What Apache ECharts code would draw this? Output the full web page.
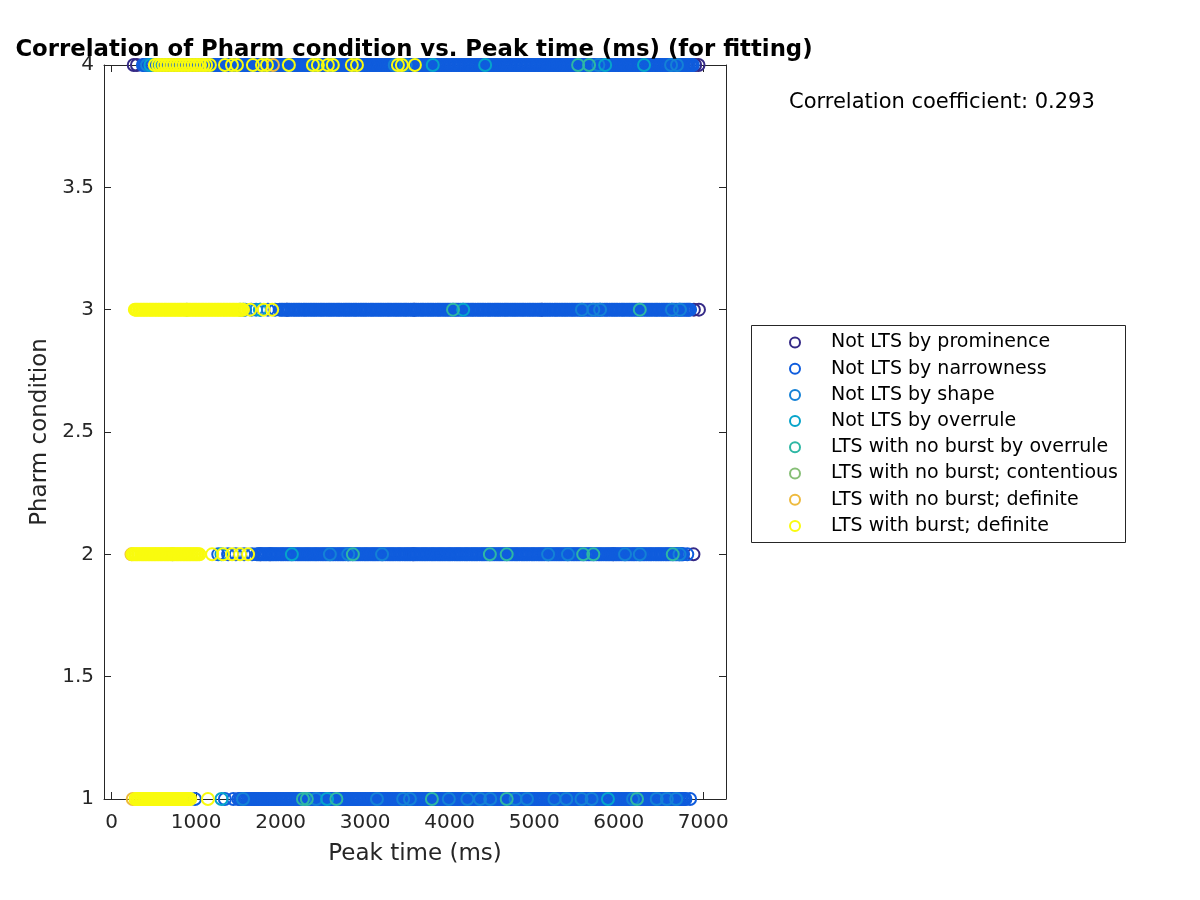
<!DOCTYPE html>
<html>
<head>
<meta charset="utf-8">
<script src="https://cdn.jsdelivr.net/npm/echarts@6/dist/echarts.min.js"></script>
<style>
html,body{margin:0;padding:0;background:#fff;}
#chart{width:1200px;height:900px;}
</style>
</head>
<body>
<div id="chart"></div>
<script>
// ---- Data ----
const seriesNames = [
  'Not LTS by prominence',
  'Not LTS by narrowness',
  'Not LTS by shape',
  'Not LTS by overrule',
  'LTS with no burst by overrule',
  'LTS with no burst; contentious',
  'LTS with no burst; definite',
  'LTS with burst; definite'
];
const seriesColors = ['#352A87','#0F5CDD','#1481D6','#06A4CA','#2EB7A4','#87BF77','#EEBA3D','#F9FB0E'];

const xTicks = [0,1000,2000,3000,4000,5000,6000,7000];
const yTicks = [1,1.5,2,2.5,3,3.5,4];
const correlationText = 'Correlation coefficient: 0.293';

// Peak times (ms) per pharm condition row, per classification
const prominence_4 = [262,300,3092,6905,6945];
const prominence_3 = [2075,3580,5090,6890,6950];
const prominence_2 = [1760,1873,3570,5935,6885];
const prominence_1 = [2760,3980,6490];

const narrowness_4 = [370,386,402,425,447,463,481,503,526,543,560,582,603,622,641,660,679,700,722,740,758,779,801,818,836,858,880,898,917,935,953,975,998,1015,1032,1054,1077,1093,1110,1131,1152,1173,1194,1212,1230,1250,1271,1292,1313,1331,1350,1371,1392,1410,1428,1449,1470,1491,1512,1530,1548,1569,1591,1609,1627,1648,1669,1688,1708,1727,1746,1767,1788,1805,1823,1845,1867,1885,1904,1923,1943,1964,1985,2003,2021,2042,2063,2082,2102,2121,2140,2161,2183,2201,2219,2240,2261,2280,2300,2319,2338,2359,2381,2399,2418,2438,2459,2478,2497,2516,2536,2557,2579,2597,2615,2636,2658,2677,2696,2715,2734,2755,2777,2795,2813,2834,2856,2874,2893,2912,2932,2953,2975,2993,3011,3032,3054,3072,3091,3110,3130,3151,3172,3191,3210,3230,3251,3270,3290,3309,3328,3349,3371,3389,3407,3428,3450,3469,3488,3507,3526,3547,3569,3587,3605,3626,3648,3667,3687,3705,3724,3745,3767,3785,3803,3824,3846,3865,3884,3903,3922,3943,3965,3983,4001,4022,4044,4063,4082,4101,4120,4141,4163,4181,4199,4220,4242,4261,4280,4299,4318,4339,4361,4379,4397,4418,4440,4459,4478,4497,4516,4537,4559,4577,4595,4616,4638,4657,4676,4695,4714,4735,4757,4775,4793,4814,4836,4855,4874,4893,4912,4933,4955,4973,4991,5012,5034,5053,5072,5091,5110,5131,5153,5171,5189,5210,5232,5251,5270,5289,5308,5329,5351,5369,5387,5408,5430,5449,5468,5487,5506,5527,5549,5567,5585,5606,5628,5647,5666,5685,5704,5725,5747,5765,5783,5804,5826,5845,5864,5883,5902,5923,5945,5963,5981,6002,6024,6043,6062,6081,6100,6121,6143,6161,6179,6200,6222,6241,6260,6279,6298,6319,6341,6359,6377,6398,6420,6439,6458,6477,6496,6517,6539,6557,6575,6596,6618,6637,6656,6675,6694,6715,6737,6755,6773,6792,6812,6831,6850,6865,6878];
const narrowness_3 = [1560,1655,1762,1850,1935,1990,2009,2028,2050,2071,2089,2107,2128,2150,2169,2188,2207,2226,2247,2269,2287,2305,2326,2348,2367,2386,2405,2424,2445,2467,2485,2503,2524,2546,2565,2584,2603,2622,2643,2665,2683,2701,2722,2744,2763,2782,2801,2820,2841,2863,2881,2899,2920,2942,2961,2980,2999,3018,3039,3061,3079,3097,3118,3140,3159,3178,3197,3216,3237,3259,3277,3295,3316,3338,3357,3376,3395,3414,3435,3457,3475,3493,3514,3536,3555,3574,3593,3612,3633,3655,3673,3691,3712,3734,3753,3772,3791,3810,3831,3853,3871,3889,3910,3932,3951,3970,3989,4008,4029,4051,4069,4087,4108,4130,4149,4168,4187,4206,4227,4249,4267,4285,4306,4328,4347,4366,4385,4404,4425,4447,4465,4483,4504,4526,4545,4564,4583,4602,4623,4645,4663,4681,4702,4724,4743,4762,4781,4800,4821,4843,4861,4879,4900,4922,4941,4960,4979,4998,5019,5041,5059,5077,5098,5120,5139,5158,5177,5196,5217,5239,5257,5275,5296,5318,5337,5356,5375,5394,5415,5437,5455,5473,5494,5516,5535,5554,5573,5592,5613,5635,5653,5671,5692,5714,5733,5752,5771,5790,5811,5833,5851,5869,5890,5912,5931,5950,5969,5988,6009,6031,6049,6067,6088,6110,6129,6148,6167,6186,6207,6229,6247,6265,6286,6308,6327,6346,6365,6384,6405,6427,6445,6463,6484,6506,6525,6544,6563,6582,6603,6625,6643,6661,6682,6704,6723,6742,6761,6780,6798,6815,6830,6845];
const narrowness_2 = [1262,1378,1470,1568,1662,1720,1738,1757,1779,1800,1818,1836,1857,1879,1898,1917,1936,1955,1976,1998,2016,2034,2055,2077,2096,2115,2134,2153,2174,2196,2214,2232,2253,2275,2294,2313,2332,2351,2372,2394,2412,2430,2451,2473,2492,2511,2530,2549,2570,2592,2610,2628,2649,2671,2690,2709,2728,2747,2768,2790,2808,2826,2847,2869,2888,2907,2926,2945,2966,2988,3006,3024,3045,3067,3086,3105,3124,3143,3164,3186,3204,3222,3243,3265,3284,3303,3322,3341,3362,3384,3402,3420,3441,3463,3482,3501,3520,3539,3560,3582,3600,3618,3639,3661,3680,3699,3718,3737,3758,3780,3798,3816,3837,3859,3878,3897,3916,3935,3956,3978,3996,4014,4035,4057,4076,4095,4114,4133,4154,4176,4194,4212,4233,4255,4274,4293,4312,4331,4352,4374,4392,4410,4431,4453,4472,4491,4510,4529,4550,4572,4590,4608,4629,4651,4670,4689,4708,4727,4748,4770,4788,4806,4827,4849,4868,4887,4906,4925,4946,4968,4986,5004,5025,5047,5066,5085,5104,5123,5144,5166,5184,5202,5223,5245,5264,5283,5302,5321,5342,5364,5382,5400,5421,5443,5462,5481,5500,5519,5540,5562,5580,5598,5619,5641,5660,5679,5698,5717,5738,5760,5778,5796,5817,5839,5858,5877,5896,5915,5936,5958,5976,5994,6015,6037,6056,6075,6094,6113,6134,6156,6174,6192,6213,6235,6254,6273,6292,6311,6332,6354,6372,6390,6411,6433,6452,6471,6490,6509,6530,6552,6570,6588,6609,6631,6650,6669,6688,6707,6722,6738,6750,6762,6812];
const narrowness_1 = [986,1340,1440,1500,1519,1538,1560,1581,1599,1617,1638,1660,1679,1698,1717,1736,1757,1779,1797,1815,1836,1858,1877,1896,1915,1934,1955,1977,1995,2013,2034,2056,2075,2094,2113,2132,2153,2175,2193,2211,2232,2254,2273,2292,2311,2330,2351,2373,2391,2409,2430,2452,2471,2490,2509,2528,2549,2571,2589,2607,2628,2650,2669,2688,2707,2726,2747,2769,2787,2805,2826,2848,2867,2886,2905,2924,2945,2967,2985,3003,3024,3046,3065,3084,3103,3122,3143,3165,3183,3201,3222,3244,3263,3282,3301,3320,3341,3363,3381,3399,3420,3442,3461,3480,3499,3518,3539,3561,3579,3597,3618,3640,3659,3678,3697,3716,3737,3759,3777,3795,3816,3838,3857,3876,3895,3914,3935,3957,3975,3993,4014,4036,4055,4074,4093,4112,4133,4155,4173,4191,4212,4234,4253,4272,4291,4310,4331,4353,4371,4389,4410,4432,4451,4470,4489,4508,4529,4551,4569,4587,4608,4630,4649,4668,4687,4706,4727,4749,4767,4785,4806,4828,4847,4866,4885,4904,4925,4947,4965,4983,5004,5026,5045,5064,5083,5102,5123,5145,5163,5181,5202,5224,5243,5262,5281,5300,5321,5343,5361,5379,5400,5422,5441,5460,5479,5498,5519,5541,5559,5577,5598,5620,5639,5658,5677,5696,5717,5739,5757,5775,5796,5818,5837,5856,5875,5894,5915,5937,5955,5973,5994,6016,6035,6054,6073,6092,6113,6135,6153,6171,6192,6214,6233,6252,6271,6290,6311,6333,6351,6369,6390,6412,6431,6450,6469,6488,6509,6531,6549,6567,6588,6610,6629,6648,6667,6686,6707,6729,6747,6765,6778,6790,6845];

const shape_4 = [420,2090,2400,2610,3350,3480,5760,6620,6690];
const shape_3 = [1580,1710,5565,5700,5780,6630,6725];
const shape_2 = [2583,2800,3200,5165,5400,6075,6250,6720];
const shape_1 = [1555,2420,3140,3450,3530,3990,4210,4360,4480,4780,4915,5240,5380,5560,5680,6170,6450,6570,6680];

const overrule_4 = [460,3800,4420,5840,6300];
const overrule_3 = [1755,4160];
const overrule_2 = [1300,2133];
const overrule_1 = [1300,2550,5873];

const ltsOverrule_4 = [5520,5650];
const ltsOverrule_3 = [1520,4040,6250];
const ltsOverrule_2 = [2855,4476,4675,5580,5700,6640];
const ltsOverrule_1 = [2264,2310,2660,3790,4675,6217];

const contentious_3 = [890];
const contentious_2 = [720];

const noBurstDef_4 = [1909];
const noBurstDef_2 = [235];
const noBurstDef_1 = [250];

const burst_4 = [512,548,581,617,652,690,722,760,795,830,866,904,937,975,1010,1046,1083,1118,1163,1341,1424,1483,1672,1779,1838,2098,2382,2441,2559,2618,2843,2903,3388,3435,3589];
const burst_3 = [275,290,305,324,342,359,376,393,410,428,447,463,480,498,516,533,551,568,585,603,622,638,655,673,691,708,726,743,760,778,797,813,830,848,866,883,901,918,935,953,972,988,1005,1023,1041,1058,1076,1093,1110,1128,1147,1163,1180,1198,1216,1233,1251,1268,1285,1303,1322,1338,1355,1373,1391,1408,1426,1443,1460,1478,1497,1513,1530,1543,1555,1640,1800,1900];
const burst_2 = [245,261,278,295,312,330,349,366,383,400,418,435,452,470,487,504,521,538,556,573,590,607,625,642,659,676,694,711,728,745,763,780,797,814,832,849,866,883,901,918,935,952,970,987,1004,1022,1040,1189,1319,1425,1520,1615];
const burst_1 = [282,299,316,333,351,368,385,402,420,437,454,471,489,506,523,540,558,575,592,609,627,644,661,678,696,713,730,747,765,782,799,816,834,851,868,885,903,916,930,1140];

// ---- Build ----
function rows(r1, r2, r3, r4) {
  const out = [];
  [[r1,1],[r2,2],[r3,3],[r4,4]].forEach(([xs,y]) => (xs||[]).forEach(x => out.push([x,y])));
  return out;
}
const seriesData = [
  rows(prominence_1, prominence_2, prominence_3, prominence_4),
  rows(narrowness_1, narrowness_2, narrowness_3, narrowness_4),
  rows(shape_1, shape_2, shape_3, shape_4),
  rows(overrule_1, overrule_2, overrule_3, overrule_4),
  rows(ltsOverrule_1, ltsOverrule_2, ltsOverrule_3, ltsOverrule_4),
  rows([], contentious_2, contentious_3, []),
  rows(noBurstDef_1, noBurstDef_2, [], noBurstDef_4),
  rows(burst_1, burst_2, burst_3, burst_4)
];

const FONT = 'DejaVu Sans';
const AX = '#262626';
const chart = echarts.init(document.getElementById('chart'), null, {renderer:'canvas'});

const series = seriesNames.map((name, i) => ({
  name: name,
  type: 'scatter',
  xAxisIndex: 0,
  yAxisIndex: 0,
  symbol: 'circle',
  symbolSize: 12,
  silent: true,
  animation: false,
  progressive: 0,
  emphasis: {disabled: true},
  itemStyle: {color: 'rgba(0,0,0,0)', borderColor: seriesColors[i], borderWidth: 2, opacity: 1},
  data: seriesData[i]
}));

const axisCommon = {
  type: 'value',
  splitLine: {show: false},
  axisLine: {show: true, onZero: false, lineStyle: {color: AX, width: 1}},
};

chart.setOption({
  animation: false,
  backgroundColor: '#fff',
  title: {
    text: 'Correlation of Pharm condition vs. Peak time (ms) (for fitting)',
    left: 409, top: 34, textAlign: 'center',
    textStyle: {fontFamily: FONT, fontSize: 22.8, fontWeight: 'bold', color: '#000'}
  },
  grid: {left: 104, right: 474, top: 65, bottom: 101, containLabel: false},
  xAxis: [
    Object.assign({}, axisCommon, {
      position: 'bottom', min: -90, max: 7270,
      axisTick: {show: true, inside: true, length: 7, lineStyle: {color: AX}, customValues: xTicks},
      axisLabel: {show: true, customValues: xTicks, margin: 14, color: AX, fontFamily: FONT, fontSize: 20, formatter: v => String(v)},
      name: 'Peak time (ms)', nameLocation: 'middle', nameGap: 44,
      nameTextStyle: {fontFamily: FONT, fontSize: 23, color: AX}
    }),
    Object.assign({}, axisCommon, {
      position: 'top', min: -90, max: 7270,
      axisTick: {show: true, inside: true, length: 7, lineStyle: {color: AX}, customValues: xTicks},
      axisLabel: {show: false}
    })
  ],
  yAxis: [
    Object.assign({}, axisCommon, {
      position: 'left', min: 1, max: 4, interval: 0.5,
      axisTick: {show: true, inside: true, length: 7, lineStyle: {color: AX}},
      axisLabel: {show: true, margin: 10, color: AX, fontFamily: FONT, fontSize: 20, formatter: v => String(v)},
      name: 'Pharm condition', nameLocation: 'middle', nameGap: 49,
      nameTextStyle: {fontFamily: FONT, fontSize: 23, color: AX}
    }),
    Object.assign({}, axisCommon, {
      position: 'right', min: 1, max: 4, interval: 0.5,
      axisTick: {show: true, inside: true, length: 7, lineStyle: {color: AX}},
      axisLabel: {show: false}
    })
  ],
  legend: {
    orient: 'vertical',
    left: 751, top: 325,
    padding: [8, 10, 0, 38],
    itemWidth: 62, itemHeight: 10, itemGap: 7.2,
    selectedMode: false,
    textStyle: {fontFamily: FONT, fontSize: 19, color: '#000', lineHeight: 18},
    data: seriesNames.map((n, i) => ({
      name: n, icon: 'circle',
      itemStyle: {color: 'rgba(0,0,0,0)', borderColor: seriesColors[i], borderWidth: 2}
    }))
  },
  graphic: [
    {type: 'rect', silent: true,
     shape: {x: 751.5, y: 325.5, width: 374, height: 217}, style: {fill: 'none', stroke: AX, lineWidth: 1}},
    {type: 'text', left: 789, top: 92, silent: true,
     style: {text: correlationText, fontFamily: FONT, fontSize: 21, fill: '#000'}}
  ],
  series: series
});
</script>
</body>
</html>
